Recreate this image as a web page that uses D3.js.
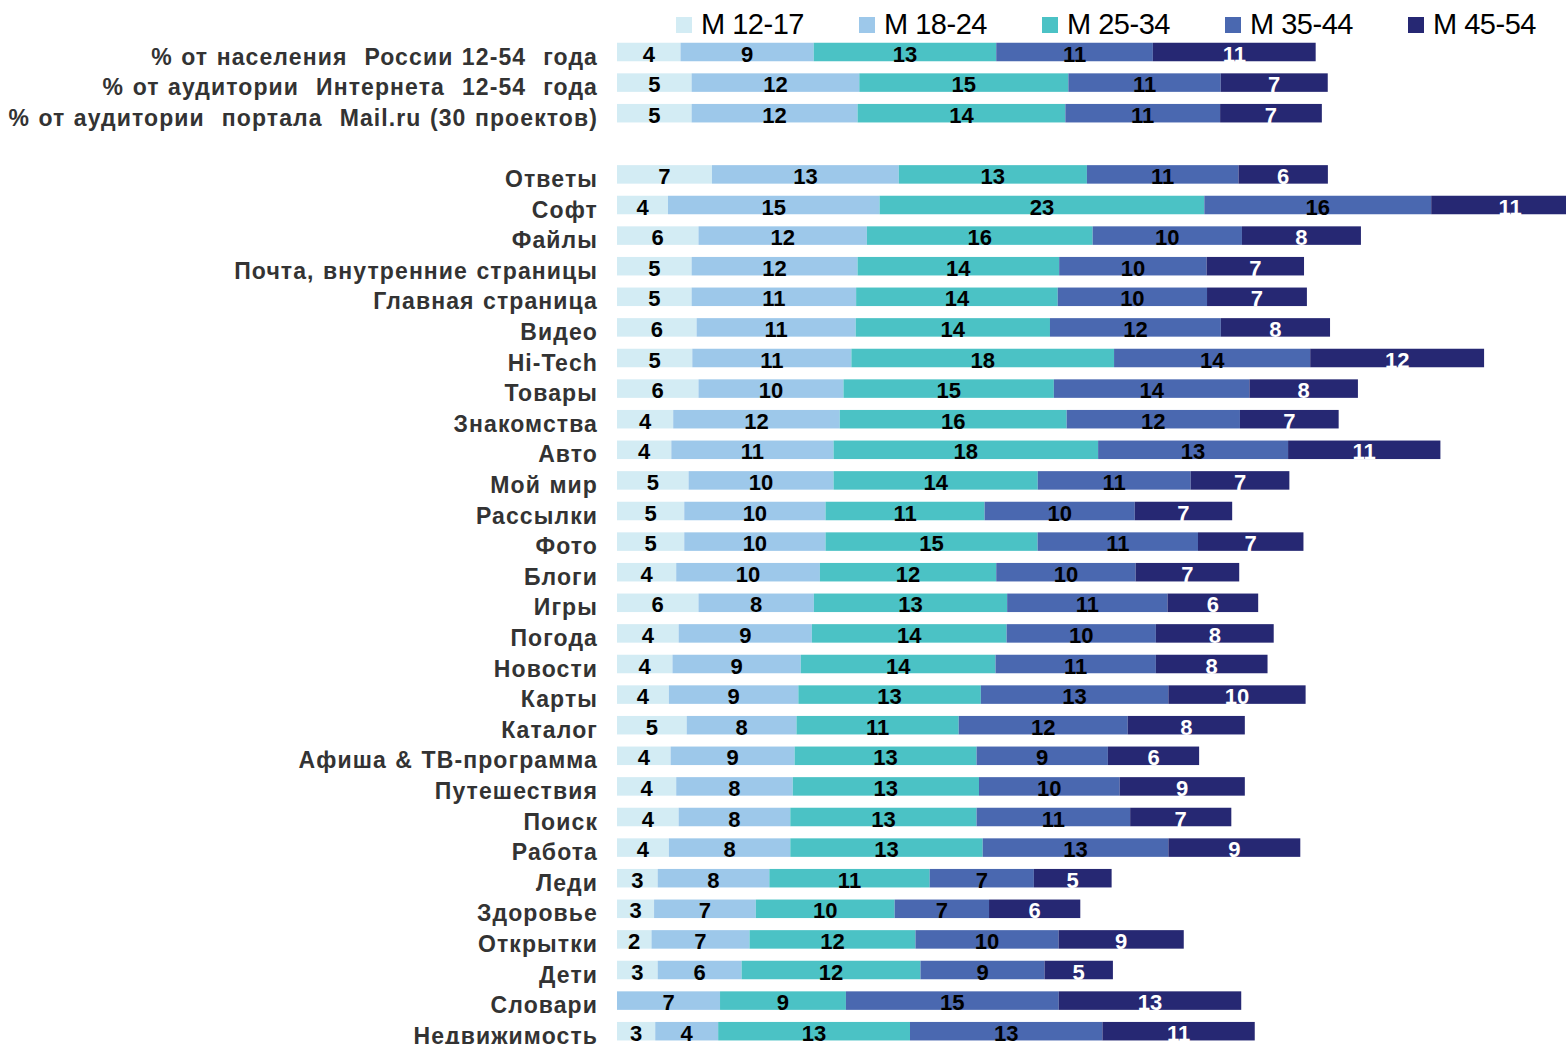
<!DOCTYPE html>
<html>
<head>
<meta charset="utf-8">
<script src="https://cdn.jsdelivr.net/npm/d3@7"></script>
<style>
    body { margin: 0; background: #fff; }
    svg { display: block; }
</style>
</head>
<body>
<svg id="chart"></svg>
<script>
// categories (top to bottom), "" = empty gap row
var categories = [
    '% от населения  России 12-54  года',
    '% от аудитории  Интернета  12-54  года',
    '% от аудитории  портала  Mail.ru (30 проектов)',
    '',
    'Ответы', 'Софт', 'Файлы', 'Почта, внутренние страницы', 'Главная страница',
    'Видео', 'Hi-Tech', 'Товары', 'Знакомства', 'Авто', 'Мой мир', 'Рассылки',
    'Фото', 'Блоги', 'Игры', 'Погода', 'Новости', 'Карты', 'Каталог',
    'Афиша & ТВ-программа', 'Путешествия', 'Поиск', 'Работа', 'Леди',
    'Здоровье', 'Открытки', 'Дети', 'Словари', 'Недвижимость'
]
var seriesNames = ['M 12-17', 'M 18-24', 'M 25-34', 'M 35-44', 'M 45-54']

var m1217 = [4.42, 5.19, 5.19, 0, 6.61, 3.55, 5.67, 5.19, 5.19, 5.54, 5.24, 5.67, 3.91, 3.78, 4.98, 4.68,
             4.68, 4.12, 5.67, 4.29, 3.86, 3.61, 4.85, 3.73, 4.12, 4.29, 3.61, 2.83, 2.58, 2.40, 2.83, 0, 2.66]
var m1824 = [9.27, 11.67, 11.55, 0, 13.0, 14.72, 11.72, 11.55, 11.45, 11.07, 11.07, 10.09, 11.59, 11.29, 10.09, 9.83,
             9.83, 10.0, 8.03, 9.27, 8.93, 9.01, 7.64, 8.63, 8.11, 7.77, 8.45, 7.77, 7.08, 6.82, 5.84, 7.17, 4.38]
var m2534 = [12.70, 14.55, 14.46, 0, 13.09, 22.6, 15.71, 14.03, 14.03, 13.52, 18.28, 14.64, 15.79, 18.41, 14.21, 11.07,
             14.76, 12.27, 13.45, 13.55, 13.55, 12.70, 11.29, 12.66, 12.96, 12.96, 13.39, 11.16, 9.66, 11.55, 12.45, 8.76, 13.35]
var m3544 = [10.90, 10.60, 10.77, 0, 10.55, 15.79, 10.39, 10.26, 10.39, 11.89, 13.65, 13.61, 12.06, 13.22, 10.64, 10.45,
             11.16, 9.70, 11.16, 10.39, 11.16, 13.05, 11.76, 9.14, 9.79, 10.69, 12.92, 7.25, 6.57, 9.96, 8.63, 14.81, 13.39]
var m4554 = [11.33, 7.45, 7.08, 0, 6.22, 11.0, 8.28, 6.78, 6.95, 7.60, 12.10, 7.55, 6.87, 10.60, 6.87, 6.78,
             7.34, 7.21, 6.31, 8.20, 7.77, 9.55, 8.15, 6.35, 8.71, 7.04, 9.18, 5.41, 6.35, 8.71, 4.76, 12.70, 10.60]

var colors = ['#d3ecf4', '#9dc8ea', '#4bc2c5', '#4a68b0', '#262873']
var labelColors = ['#000', '#000', '#000', '#000', '#fff']

var width = 1566, height = 1044

var svg = d3.select('#chart').attr('width', width).attr('height', height)

var rows = categories.map(function(c, i) {
    return { key: 'r' + i, name: c, s0: m1217[i], s1: m1824[i], s2: m2534[i], s3: m3544[i], s4: m4554[i] }
})
var keys = ['s0', 's1', 's2', 's3', 's4']
var stacked = d3.stack().keys(keys)(rows)

var x = d3.scaleLinear().domain([0, 66]).range([617, 617 + 66 * 14.37])
var y = d3.scaleBand()
    .domain(rows.map(function(d) { return d.key }))
    .range([36.7, 36.7 + 33 * 30.6])
    .paddingInner(0.395)
    .paddingOuter(0.1975)

// bars
var layers = svg.selectAll('g.layer')
    .data(stacked)
    .join('g')
    .attr('class', 'layer')
    .attr('fill', function(d, i) { return colors[i] })

layers.selectAll('rect')
    .data(function(d) { return d.filter(function(p) { return p[1] - p[0] > 0 }) })
    .join('rect')
    .attr('x', function(p) { return x(p[0]) })
    .attr('y', function(p) { return y(p.data.key) })
    .attr('width', function(p) { return x(p[1]) - x(p[0]) })
    .attr('height', y.bandwidth())

// value labels
layers.selectAll('text')
    .data(function(d) { return d.filter(function(p) { return p[1] - p[0] > 0 }) })
    .join('text')
    .attr('x', function(p) { return (x(p[0]) + x(p[1])) / 2 })
    .attr('y', function(p) { return y(p.data.key) + y.bandwidth() / 2 + 2 })
    .attr('text-anchor', 'middle')
    .attr('dominant-baseline', 'central')
    .attr('fill', function() { return labelColors[keys.indexOf(d3.select(this.parentNode).datum().key)] })
    .style('font', 'bold 22px "Liberation Sans", Arial, sans-serif')
    .text(function(p) { return Math.round(p[1] - p[0]) })

// category labels
svg.append('g')
    .selectAll('text')
    .data(rows.filter(function(d) { return d.name !== '' }))
    .join('text')
    .attr('x', 598)
    .attr('y', function(d) { return y(d.key) + y.bandwidth() / 2 + 4.5 })
    .attr('text-anchor', 'end')
    .attr('dominant-baseline', 'central')
    .attr('fill', '#333')
    .style('font', 'bold 23px "Liberation Sans", Arial, sans-serif')
    .style('letter-spacing', '1.1px')
    .style('word-spacing', '1px')
    .style('white-space', 'pre')
    .text(function(d) { return d.name })

// legend
var legend = svg.append('g')
    .selectAll('g')
    .data(seriesNames)
    .join('g')
    .attr('transform', function(d, i) { return 'translate(' + (676 + i * 183) + ',0)' })

legend.append('rect')
    .attr('x', 0).attr('y', 17)
    .attr('width', 16).attr('height', 16)
    .attr('fill', function(d, i) { return colors[i] })

legend.append('text')
    .attr('x', 25).attr('y', 34)
    .attr('fill', '#000')
    .style('font', '29px "Liberation Sans", Arial, sans-serif')
    .style('letter-spacing', '-0.5px')
    .text(function(d) { return d })
</script>
</body>
</html>
